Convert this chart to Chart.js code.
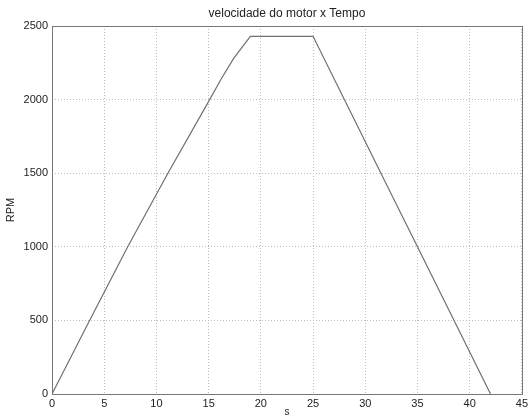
<!DOCTYPE html>
<html>
<head>
<meta charset="utf-8">
<script src="https://cdn.jsdelivr.net/npm/chart.js@4/dist/chart.umd.min.js"></script>
<style>
  html, body { margin: 0; padding: 0; background: #fff; }
  #wrap { width: 531px; height: 418px; }
</style>
</head>
<body>
<div id="wrap"><canvas id="myChart" width="531" height="418"></canvas></div>
<script>
// Tempo (s) and motor speed (RPM)
const tempo = [0, 3.6, 7.25, 11.1, 15.1, 16.2, 17.4, 19, 25, 31.5, 35, 42];
const rpm = [0, 500, 1000, 1500, 2000, 2140, 2280, 2430, 2430, 1500, 1000, 0];

// Axis ticks
const xTicks = [0, 5, 10, 15, 20, 25, 30, 35, 40, 45];
const yTicks = [0, 500, 1000, 1500, 2000, 2500];

const points = tempo.map((t, i) => ({x: t, y: rpm[i]}));
const fontFamily = '"Liberation Sans", Arial, sans-serif';

// Title above the plot box
const titlePlugin = {
    id: 'plotTitle',
    afterDraw(chart) {
        const c = chart.ctx;
        const a = chart.chartArea;
        c.save();
        c.fillStyle = '#222';
        c.font = '12px ' + fontFamily;
        c.textAlign = 'center';
        c.textBaseline = 'middle';
        c.fillText('velocidade do motor x Tempo', (a.left + a.right) / 2, 14);
        c.restore();
    }
};

// Frame around the plot area
const boxPlugin = {
    id: 'plotBox',
    afterDatasetsDraw(chart) {
        const c = chart.ctx;
        const a = chart.chartArea;
        c.save();
        c.strokeStyle = '#777';
        c.lineWidth = 1;
        c.strokeRect(Math.round(a.left) + 0.5, Math.round(a.top) + 0.5,
            Math.round(a.right - a.left), Math.round(a.bottom - a.top));
        c.restore();
    }
};

const ctx = document.getElementById('myChart').getContext('2d');

const myChart = new Chart(ctx, {
    type: 'line',
    data: {
        datasets: [{
            data: points,
            borderColor: '#707070',
            borderWidth: 1.2,
            pointRadius: 0,
            tension: 0,
            fill: false
        }]
    },
    options: {
        responsive: false,
        animation: false,
        layout: {padding: {left: 0, right: 6, top: 26, bottom: 0}},
        plugins: {legend: {display: false}, tooltip: {enabled: false}},
        scales: {
            x: {
                type: 'linear',
                min: 0,
                max: 45,
                afterBuildTicks: (s) => { s.ticks = xTicks.map(v => ({value: v})); },
                afterFit: (s) => { s.height = 24; },
                grid: {color: '#bdbdbd', lineWidth: 1, tickLength: 0, drawTicks: false},
                border: {display: false, dash: [1, 2]},
                ticks: {color: '#222', font: {family: fontFamily, size: 11}, padding: 3, maxRotation: 0,
                    callback: (v) => String(v)},
                title: {display: true, text: 's', color: '#222', font: {family: fontFamily, size: 10}, padding: {top: 0, bottom: 0}}
            },
            y: {
                type: 'linear',
                min: 0,
                max: 2500,
                afterBuildTicks: (s) => { s.ticks = yTicks.map(v => ({value: v})); },
                afterFit: (s) => { s.width = 52; },
                grid: {color: '#bdbdbd', lineWidth: 1, tickLength: 0, drawTicks: false},
                border: {display: false, dash: [1, 2]},
                ticks: {color: '#222', font: {family: fontFamily, size: 11}, padding: 4,
                    callback: (v) => String(v)},
                title: {display: true, text: 'RPM', color: '#222', font: {family: fontFamily, size: 11}, padding: {top: 4, bottom: 0}}
            }
        }
    },
    plugins: [titlePlugin, boxPlugin]
});
</script>
</body>
</html>
